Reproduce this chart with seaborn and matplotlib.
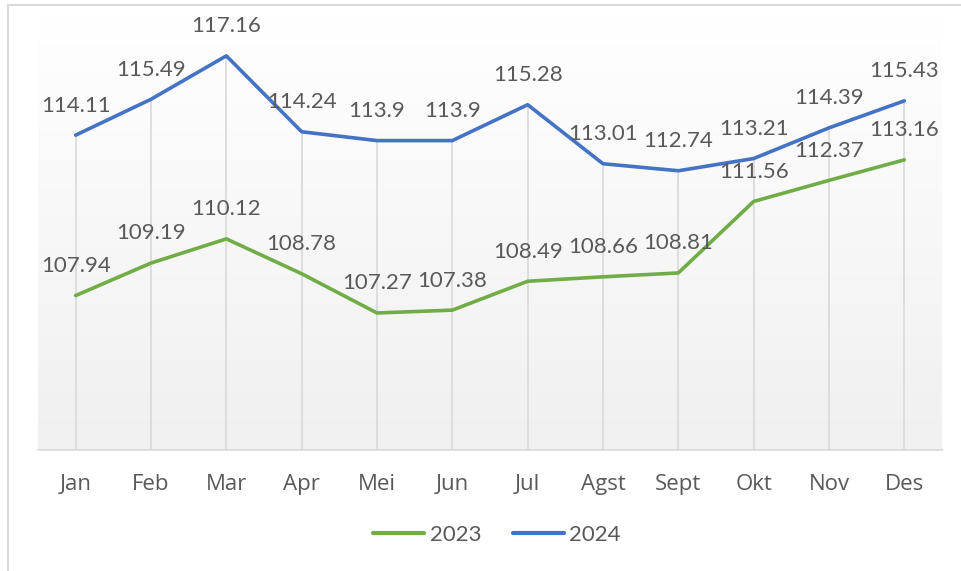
import seaborn as sns
import matplotlib.pyplot as plt
import matplotlib.patches as mpatches
import pandas as pd
import numpy as np

months = ['Jan', 'Feb', 'Mar', 'Apr', 'Mei', 'Jun', 'Jul', 'Agst', 'Sept', 'Okt', 'Nov', 'Des']
vals_2023 = [107.94, 109.19, 110.12, 108.78, 107.27, 107.38, 108.49, 108.66, 108.81, 111.56, 112.37, 113.16]
vals_2024 = [114.11, 115.49, 117.16, 114.24, 113.9, 113.9, 115.28, 113.01, 112.74, 113.21, 114.39, 115.43]
years = ['2023', '2024']
colors = {'2023': '#70AD47', '2024': '#4472C4'}

df = pd.DataFrame({
    'bulan': months * 2,
    'nilai': vals_2023 + vals_2024,
    'tahun': ['2023'] * 12 + ['2024'] * 12,
})

sns.set_theme(style='white')
plt.rcParams['font.family'] = ['Lato', 'DejaVu Sans']
text_col = '#595959'

fig = plt.figure(figsize=(9.62, 5.71), dpi=100)
ax = fig.add_axes([38 / 962, 121 / 571, 904 / 962, 435 / 571])

ymin, ymax = 102, 102 + 435 / 26
ax.set_xlim(-0.5, 11.5)
ax.set_ylim(ymin, ymax)

# soft gradient background of the plot area
grad = np.linspace(1, 0, 256).reshape(-1, 1)
ax.imshow(grad, extent=(-0.5, 11.5, ymin, ymax), aspect='auto',
          cmap=plt.matplotlib.colors.LinearSegmentedColormap.from_list('g', ['#f0f0f0', '#ffffff']),
          zorder=0, origin='upper')

# vertical gridlines up to the upper series
top = np.maximum(vals_2023, vals_2024)
ax.vlines(range(len(months)), ymin, top, color='#d9d9d9', lw=1.2, zorder=1)

sns.lineplot(data=df, x='bulan', y='nilai', hue='tahun', palette=colors,
             hue_order=years, sort=False, lw=2.6, ax=ax, legend=False, zorder=3)

for yr, vals in zip(years, [vals_2023, vals_2024]):
    for i, v in enumerate(vals):
        ax.annotate(f'{v:g}', (i, v), xytext=(0, 17), textcoords='offset points',
                    ha='center', va='baseline', fontsize=16, color=text_col, zorder=4)

for s in ['top', 'left', 'right']:
    ax.spines[s].set_visible(False)
ax.spines['bottom'].set_color('#d9d9d9')
ax.spines['bottom'].set_linewidth(1.2)
ax.set_yticks([])
ax.set_xlabel('')
ax.set_ylabel('')
ax.tick_params(axis='x', length=0, pad=17, labelsize=16, labelcolor=text_col)
for t in ax.get_xticklabels():
    t.set_fontfamily(['Open Sans', 'DejaVu Sans'])

handles = [plt.Line2D([], [], color=colors[y], lw=3, solid_capstyle='round') for y in years]
fig.legend(handles, years, loc='center', bbox_to_anchor=(497 / 962, 1 - 535 / 571), ncol=2,
           frameon=False, fontsize=16, labelcolor=text_col, handlelength=2.3,
           handletextpad=0.25, columnspacing=1.4)

# outer chart border
fig.patches.append(mpatches.Rectangle((8 / 962, -0.1), 1.2, 1.1 - 5 / 571,
                                      transform=fig.transFigure, fill=False,
                                      edgecolor='#d9d9d9', lw=1.5))

fig.savefig('out.png', dpi=100)
